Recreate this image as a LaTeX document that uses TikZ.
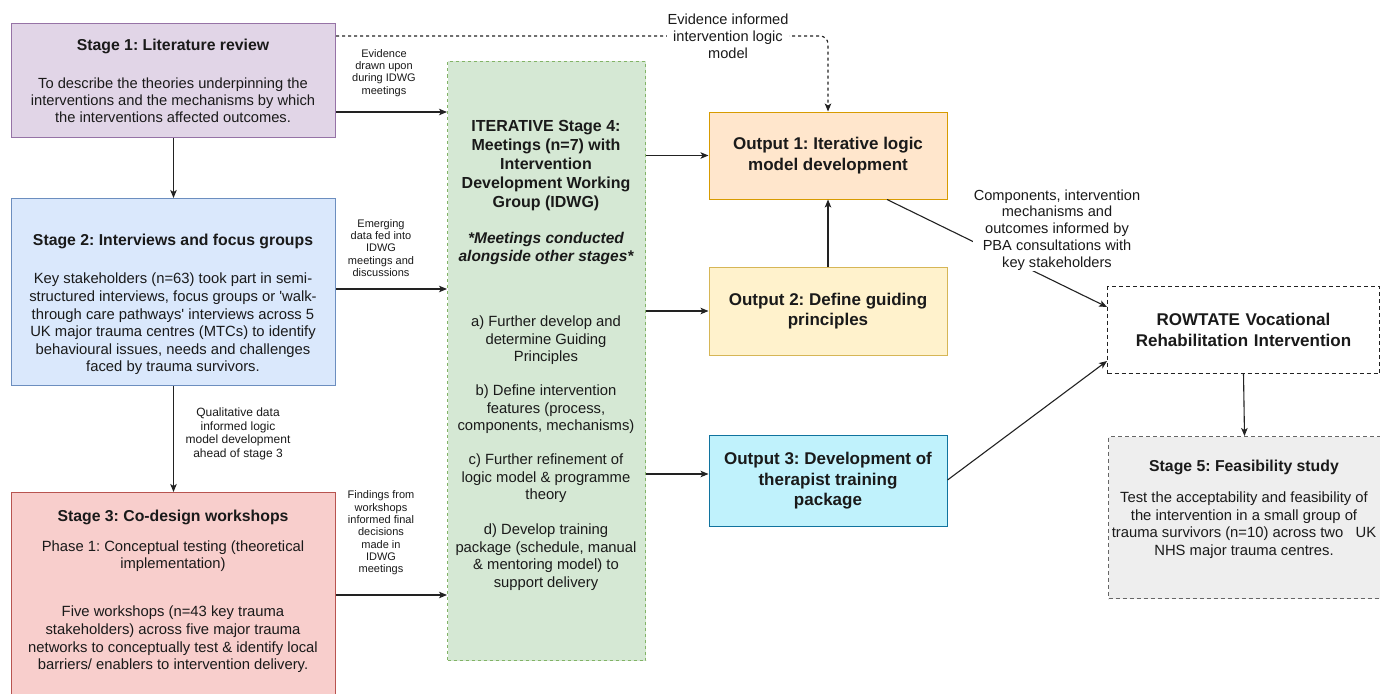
\documentclass[tikz,border=0pt]{standalone}
\usepackage{fontspec}
\setmainfont{Liberation Sans}
\usetikzlibrary{arrows.meta}
\frenchspacing
\definecolor{txt}{HTML}{1A1A1A}
\definecolor{lnc}{HTML}{222222}
\definecolor{s1f}{HTML}{E1D5E7}\definecolor{s1d}{HTML}{9673A6}
\definecolor{s2f}{HTML}{DAE8FC}\definecolor{s2d}{HTML}{6C8EBF}
\definecolor{s3f}{HTML}{F8CECC}\definecolor{s3d}{HTML}{B85450}
\definecolor{gf}{HTML}{D5E8D4}\definecolor{gd}{HTML}{82B366}
\definecolor{o1f}{HTML}{FFE6CC}\definecolor{o1d}{HTML}{D79B00}
\definecolor{o2f}{HTML}{FFF2CC}\definecolor{o2d}{HTML}{D6B656}
\definecolor{o3f}{HTML}{C0F2FC}\definecolor{o3d}{HTML}{10739E}
\definecolor{s5f}{HTML}{EEEEEE}\definecolor{s5d}{HTML}{666666}
\begin{document}
\frenchspacing
\begin{tikzpicture}[x=1pt,y=-1pt,
  box/.style={draw, rectangle, inner sep=0pt, line width=1pt},
  arr/.style={draw=lnc, line width=1.1pt, -{Stealth[length=8pt,width=6.5pt,inset=2pt]}},
  darr/.style={arr, dash pattern=on 3pt off 3pt},
  ttl/.style={font=\fontsize{15.8}{19}\selectfont\bfseries, align=center, text=txt, inner sep=0pt},
  bod/.style={font=\fontsize{14.8}{17.6}\selectfont, align=center, text=txt, inner sep=0pt},
  outt/.style={font=\fontsize{17}{20.5}\selectfont\bfseries, align=center, text=txt},
  sml/.style={font=\fontsize{11}{12.3}\selectfont, align=center, text=txt, inner sep=0pt},
  mid/.style={font=\fontsize{14.6}{16.8}\selectfont, align=center, text=txt, fill=white, inner sep=1pt}
]
\useasboundingbox (0,0) rectangle (1380,693);
\fill[white] (0,0) rectangle (1380,693);

% ---------- boxes ----------
\node[box, fill=s1f, draw=s1d, anchor=north west, minimum width=324, minimum height=114] (s1) at (11,23) {};
\node[box, fill=s2f, draw=s2d, anchor=north west, minimum width=324, minimum height=187] (s2) at (11,198) {};
\node[box, fill=s3f, draw=s3d, anchor=north west, minimum width=324, minimum height=210] (s3) at (11,492) {};
\node[box, fill=gf, draw=gd, dash pattern=on 3pt off 3pt, anchor=north west, minimum width=198, minimum height=599] (g) at (447,61) {};
\node[box, fill=o1f, draw=o1d, outt, minimum width=238, minimum height=87] (o1) at (828,155.5) {Output 1: Iterative logic\\model development};
\node[box, fill=o2f, draw=o2d, outt, minimum width=238, minimum height=88] (o2) at (828,311) {Output 2: Define guiding\\principles};
\node[box, fill=o3f, draw=o3d, outt, minimum width=238, minimum height=91] (o3) at (828,481) {Output 3: Development of\\therapist training\\package};
\node[box, fill=white, draw=lnc, dash pattern=on 4pt off 3pt, outt, anchor=north west, minimum width=272, minimum height=87, text width=268] (rw) at (1107,286) {ROWTATE Vocational\\Rehabilitation Intervention};
\node[box, fill=s5f, draw=s5d, dash pattern=on 4pt off 3pt, anchor=north west, minimum width=272, minimum height=162] (s5) at (1108,436) {};

% ---------- texts in boxes ----------
\node[ttl] (s1t) at (173,46) {Stage 1: Literature review};
\node[bod, font=\fontsize{14.7}{16.8}\selectfont] (s1b) at (173,100) {To describe the theories underpinning the\\interventions and the mechanisms by which\\the interventions affected outcomes.};

\node[ttl] (s2t) at (173,241) {Stage 2: Interviews and focus groups};
\node[bod] (s2b) at (173,324) {Key stakeholders (n=63) took part in semi-\\structured interviews, focus groups or \textquotesingle walk-\\through care pathways\textquotesingle{} interviews across 5\\UK major trauma centres (MTCs) to identify\\behavioural issues, needs and challenges\\faced by trauma survivors.};

\node[ttl] (s3t) at (173,517) {Stage 3: Co-design workshops};
\node[bod] (s3p) at (173,556) {Phase 1: Conceptual testing (theoretical\\implementation)};
\node[bod] (s3b) at (173,639.5) {Five workshops (n=43 key trauma\\stakeholders) across five major trauma\\networks to conceptually test \& identify local\\barriers/ enablers to intervention delivery.};

\node[ttl, font=\fontsize{16}{19}\selectfont\bfseries] (gt) at (546,165.5) {ITERATIVE Stage 4:\\Meetings (n=7) with\\Intervention\\Development Working\\Group (IDWG)};
\node[ttl, font=\fontsize{15.5}{18}\selectfont\bfseries\itshape] (gi) at (546,248) {*Meetings conducted\\alongside other stages*};
\node[bod] (ga) at (546,340.5) {a) Further develop and\\determine Guiding\\Principles};
\node[bod] (gb) at (546,409.5) {b) Define intervention\\features (process,\\components, mechanisms)};
\node[bod] (gc) at (546,478.5) {c) Further refinement of\\logic model \& programme\\theory};
\node[bod] (gdd) at (546,557) {d) Develop training\\package (schedule, manual\\\& mentoring model) to\\support delivery};

\node[ttl] (s5t) at (1244,467) {Stage 5: Feasibility study};
\node[bod] (s5b) at (1244,525) {Test the acceptability and feasibility of\\the intervention in a small group of\\trauma survivors (n=10) across two\ \ \ UK\\NHS major trauma centres.};

% ---------- helper coordinates ----------
\coordinate (ya) at (0,112);
\coordinate (yc) at (0,474);
\coordinate (ye) at (0,36);
\coordinate (yr1) at (0,307);
\coordinate (yr2) at (0,361);
\coordinate (yo3) at (0,480);

% ---------- connectors ----------
\draw[arr] (s1.south) -- (s2.north);
\draw[arr] (s2.south) -- (s3.north);
\draw[arr] (s1.east |- ya) -- (g.west |- ya);
\draw[arr] (s2.east |- 0,289) -- (g.west |- 0,289);
\draw[arr] (s3.east |- 0,595) -- (g.west |- 0,595);
\draw[arr] (g.east |- o1.west) -- (o1.west);
\draw[arr] (g.east |- o2.west) -- (o2.west);
\draw[arr] (g.east |- yc) -- (o3.west |- yc);
\draw[arr] (o2.north) -- (o1.south);
\draw[darr, rounded corners=8pt] (s1.east |- ye) -| (o1.north);
\draw[arr] ([xshift=59pt]o1.south) -- (rw.west |- yr1);
\draw[arr] (o3.east |- yo3) -- (rw.west |- yr2);
\draw[arr] (rw.south) -- (s5.north);

% ---------- connector labels ----------
\node[sml] (l1) at (384,73) {Evidence\\drawn upon\\during IDWG\\meetings};
\node[sml] (l2) at (381,248) {Emerging\\data fed into\\IDWG\\meetings and\\discussions};
\node[sml] (l3) at (381,533) {Findings from\\workshops\\informed final\\decisions\\made in\\IDWG\\meetings};
\node[sml, font=\fontsize{12}{13.5}\selectfont] (lq) at (238,434) {Qualitative data\\informed logic\\model development\\ahead of stage 3};
\node[mid] (le) at (728,36) {Evidence informed\\intervention logic\\model};
\node[mid] (lc) at (1057,230) {Components, intervention\\mechanisms and\\outcomes informed by\\PBA consultations with\\key stakeholders};
\end{tikzpicture}
\end{document}
